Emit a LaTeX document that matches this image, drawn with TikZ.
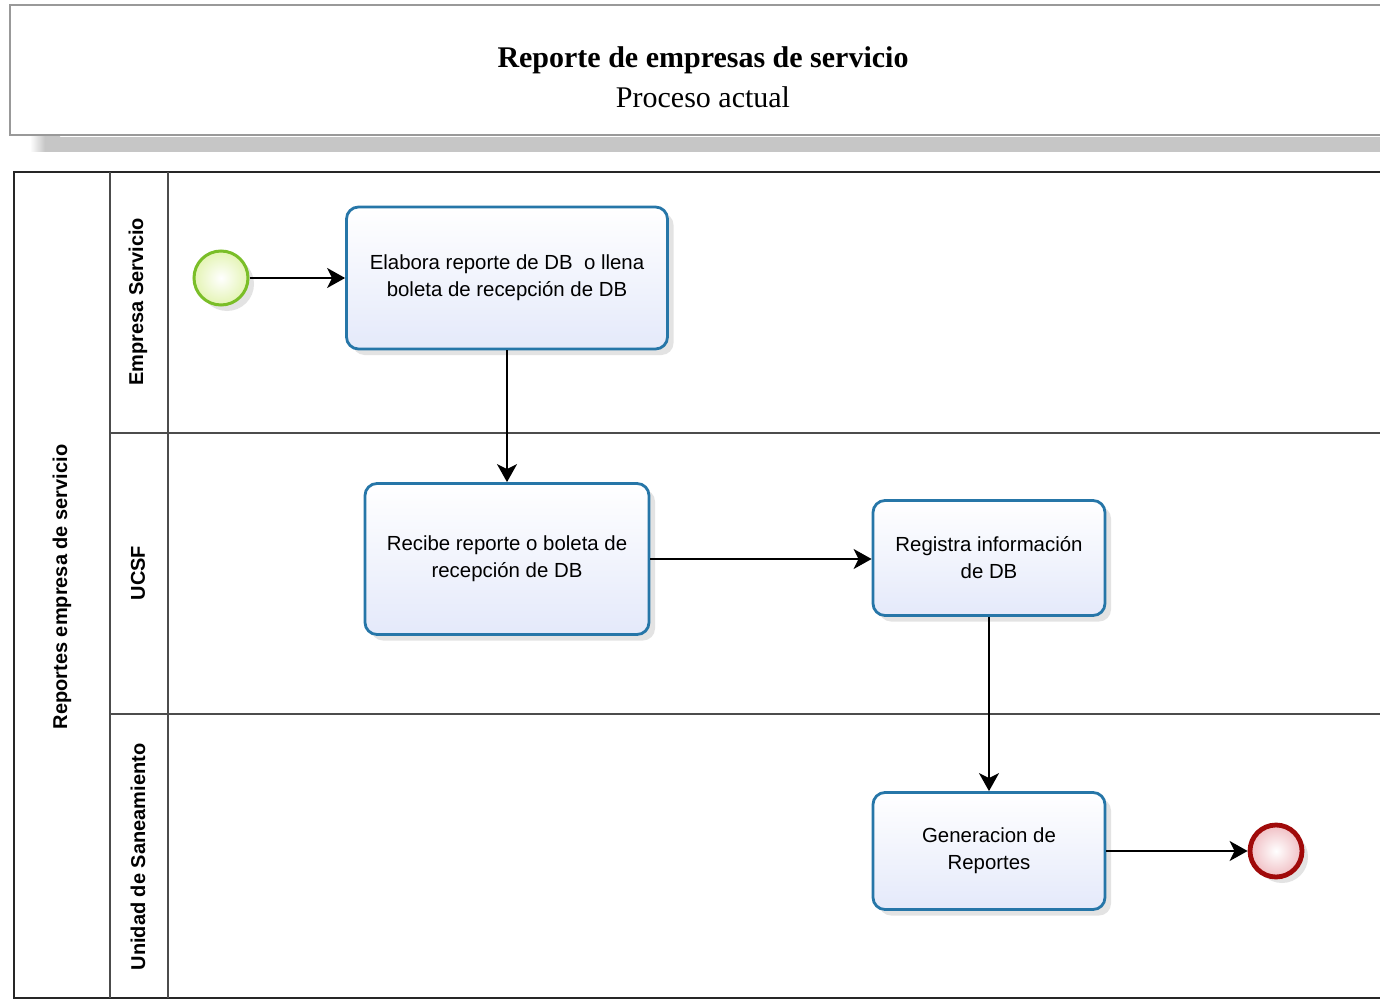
\documentclass[tikz,border=0pt]{standalone}
\usepackage{fontspec}
\setmainfont{Liberation Serif}
\setsansfont{Liberation Sans}
\usetikzlibrary{arrows.meta,shadows}
\definecolor{taskblue}{RGB}{38,118,168}
\definecolor{tasklav}{RGB}{228,233,250}
\definecolor{startgreen}{RGB}{122,190,40}
\definecolor{endred}{RGB}{160,10,10}

\begin{document}
\begin{tikzpicture}[
x=0.5pt,y=-0.5pt,
task/.style={draw=taskblue,line width=1.4pt,rounded corners=6pt,
  top color=white,bottom color=tasklav,align=center,
  font=\sffamily\fontsize{10.2}{13.5}\selectfont,
  drop shadow={opacity=0.22,shadow xshift=3pt,shadow yshift=-3pt}},
startev/.style={circle,draw=startgreen,line width=1.5pt,minimum size=27pt,inner sep=0pt,
  inner color=white,outer color={rgb,255:red,228;green,244;blue,180},
  drop shadow={opacity=0.22,shadow xshift=3pt,shadow yshift=-3pt}},
endev/.style={circle,draw=endred,line width=2.4pt,minimum size=26pt,inner sep=0pt,
  inner color=white,outer color={rgb,255:red,240;green,190;blue,195},
  drop shadow={opacity=0.22,shadow xshift=3pt,shadow yshift=-3pt}},
lanelabel/.style={rotate=90,font=\sffamily\bfseries\fontsize{10}{12}\selectfont},
flow/.style={line width=1pt,-{Stealth[length=9pt,width=10pt,inset=2.5pt]}}
]
\useasboundingbox[fill=white] (0,0) rectangle (1380,1000);

% title
\fill[left color=white,right color=gray!45,middle color=gray!45] (30,137) rectangle (60,152);
\fill[gray!45] (60,137) rectangle (1380,152);
\draw[gray!80,line width=1pt] (1392,5) -- (10,5) -- (10,135) -- (1392,135);
\node[font=\bfseries\fontsize{15}{17}\selectfont] (title) at (703,60) {Reporte de empresas de servicio};
\node[font=\fontsize{15}{17}\selectfont] (subtitle) at (703,97) {Proceso actual};

% pool and lanes
\draw[black!85,line width=1pt] (1392,172) -- (14,172) -- (14,998) -- (1392,998);
\draw[black!70,line width=0.8pt] (110,172) -- (110,998);
\draw[black!70,line width=0.8pt] (168,172) -- (168,998);
\draw[black!70,line width=0.8pt] (110,433) -- (1392,433);
\draw[black!70,line width=0.8pt] (110,714) -- (1392,714);
\node[lanelabel] (pool) at (62,587) {Reportes empresa de servicio};
\node[lanelabel] (empresa) at (138,302) {Empresa Servicio};
\node[lanelabel] (ucsf) at (138,573) {UCSF};
\node[lanelabel] (unidad) at (138,857) {Unidad de Saneamiento};

% events and tasks
\node[startev] (inicio) at (221,278) {};
\node[task,minimum width=160.5pt,minimum height=71pt] (elabora) at (507,278)
  {Elabora reporte de DB\ \ o llena\\boleta de recepción de DB};
\node[task,minimum width=142pt,minimum height=75.5pt] (recibe) at (507,559)
  {Recibe reporte o boleta de\\recepción de DB};
\node[task,minimum width=116pt,minimum height=57.5pt] (registra) at (989,558)
  {Registra información\\de DB};
\node[task,minimum width=116pt,minimum height=58.5pt] (genera) at (989,851)
  {Generacion de\\Reportes};
\node[endev] (fin) at (1276,851) {};

\draw[flow] (inicio) -- (elabora);
\draw[flow] (elabora) -- (recibe);
\draw[flow] (recibe.east) -- (recibe.east -| registra.west);
\draw[flow] (registra) -- (genera);
\draw[flow] (genera) -- (fin);

\end{tikzpicture}
\end{document}
